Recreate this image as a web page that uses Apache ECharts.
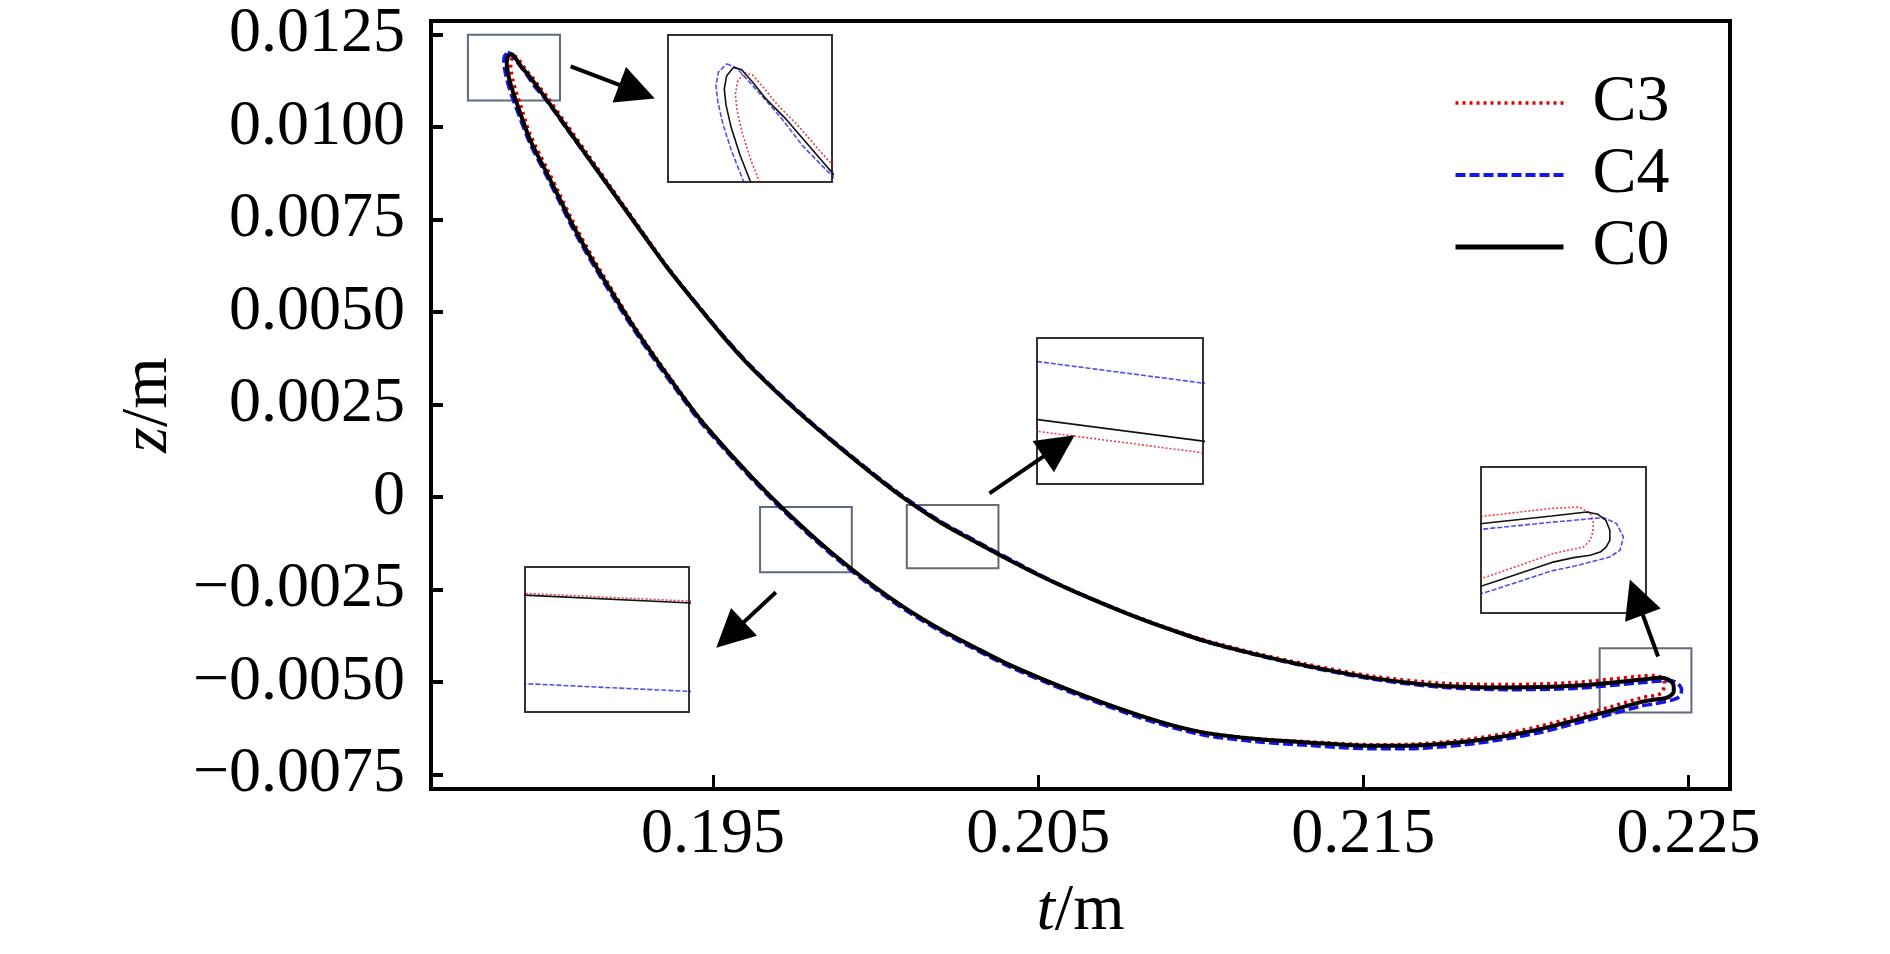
<!DOCTYPE html>
<html>
<head>
<meta charset="utf-8">
<title>C3 / C4 / C0 profile</title>
<style>
html, body { margin: 0; padding: 0; background: #fff; }
#chart { width: 1890px; height: 954px; }
</style>
</head>
<body>
<div id="chart"></div>
<script src="https://cdn.jsdelivr.net/npm/echarts@6/dist/echarts.min.js"></script>
<script>
var xTicks = [0.195, 0.205, 0.215, 0.225];
var yTicks = [-0.0075, -0.005, -0.0025, 0, 0.0025, 0.005, 0.0075, 0.01, 0.0125];

// profile loops [t, z]: leading edge -> upper side -> trailing edge -> lower side -> leading edge
var c0 = [
  [0.188754, 0.011976], [0.188845, 0.011950], [0.188971, 0.011802], [0.189116, 0.011617],
  [0.189333, 0.011395], [0.189550, 0.011136], [0.189883, 0.010743], [0.190498, 0.009986],
  [0.191114, 0.009230], [0.191729, 0.008474], [0.192345, 0.007717], [0.192960, 0.006961],
  [0.193575, 0.006218], [0.194394, 0.005313], [0.195215, 0.004435], [0.196037, 0.003625],
  [0.197062, 0.002747], [0.198086, 0.001937], [0.199114, 0.001180], [0.199932, 0.000600],
  [0.200754, 0.000046], [0.201985, -0.000683], [0.203009, -0.001183], [0.204037, -0.001669],
  [0.205062, -0.002129], [0.206086, -0.002547], [0.207114, -0.002931], [0.208138, -0.003290],
  [0.209163, -0.003614], [0.210191, -0.003911], [0.211729, -0.004263], [0.213268, -0.004565],
  [0.215317, -0.004897], [0.217369, -0.005100], [0.219421, -0.005149], [0.221471, -0.005105],
  [0.223523, -0.004943],
  [0.224140, -0.004890], [0.224340, -0.004920], [0.224480, -0.004998], [0.224550, -0.005128],
  [0.224550, -0.005258], [0.224480, -0.005350], [0.224380, -0.005411], [0.224200, -0.005454],
  [0.223910, -0.005484],
  [0.223523, -0.005546], [0.222498, -0.005802], [0.221471, -0.006045], [0.220445, -0.006275],
  [0.219421, -0.006456], [0.218394, -0.006591], [0.217369, -0.006680], [0.216345, -0.006726],
  [0.215317, -0.006726], [0.213268, -0.006634], [0.211729, -0.006545], [0.210191, -0.006383],
  [0.209163, -0.006180], [0.208138, -0.005910], [0.207114, -0.005600], [0.206086, -0.005262],
  [0.205062, -0.004897], [0.204037, -0.004506], [0.203009, -0.004046], [0.201985, -0.003574],
  [0.200960, -0.003033], [0.199932, -0.002404], [0.198702, -0.001548], [0.197677, -0.000751],
  [0.196652, 0.000119], [0.195625, 0.001072], [0.194600, 0.002099], [0.193985, 0.002820],
  [0.193268, 0.003693], [0.192548, 0.004611], [0.191932, 0.005475], [0.191317, 0.006353],
  [0.190702, 0.007320], [0.190292, 0.008042], [0.189883, 0.008763], [0.189369, 0.009662],
  [0.188960, 0.010654], [0.188825, 0.011004], [0.188731, 0.011304], [0.188675, 0.011554],
  [0.188655, 0.011734], [0.188680, 0.011880], [0.188754, 0.011976]
];

var c3 = [
  [0.188874, 0.011916], [0.188965, 0.011890], [0.189091, 0.011742], [0.189236, 0.011557],
  [0.189453, 0.011335], [0.189670, 0.011076], [0.189883, 0.010833], [0.190498, 0.010066],
  [0.191114, 0.009300], [0.191729, 0.008534], [0.192345, 0.007767], [0.192960, 0.007001],
  [0.193575, 0.006248], [0.194394, 0.005333], [0.195215, 0.004445], [0.196037, 0.003625],
  [0.197062, 0.002747], [0.198086, 0.001934], [0.199114, 0.001175], [0.199932, 0.0005936],
  [0.200754, 0.0000396], [0.201985, -0.0006894], [0.203009, -0.0011894], [0.204037, -0.001674],
  [0.205062, -0.002129], [0.206086, -0.002542], [0.207114, -0.002921], [0.208138, -0.003275],
  [0.209163, -0.003594], [0.210191, -0.003886], [0.211729, -0.004233], [0.213268, -0.004525],
  [0.215317, -0.004847], [0.217369, -0.005030], [0.219421, -0.005069], [0.221471, -0.005015],
  [0.223523, -0.004843],
  [0.224000, -0.004825], [0.224200, -0.004900], [0.224260, -0.005030], [0.224250, -0.005150],
  [0.224200, -0.005258], [0.224080, -0.005346], [0.223800, -0.005390],
  [0.223523, -0.005436], [0.222498, -0.005702], [0.221471, -0.005955], [0.220445, -0.006195],
  [0.219421, -0.006386], [0.218394, -0.006531], [0.217369, -0.006630], [0.216345, -0.006686],
  [0.215317, -0.006696], [0.213268, -0.006614], [0.211729, -0.006535], [0.210191, -0.006378],
  [0.209163, -0.006180], [0.208138, -0.005910], [0.207114, -0.005600], [0.206086, -0.005262],
  [0.205062, -0.004897], [0.204037, -0.004506], [0.203009, -0.004046], [0.201985, -0.003574],
  [0.200960, -0.003032], [0.199932, -0.002403], [0.198702, -0.001547], [0.197677, -0.000750],
  [0.196652, 0.000120], [0.195625, 0.001082], [0.194600, 0.002119], [0.193985, 0.002850],
  [0.193268, 0.003733], [0.192548, 0.004661], [0.191932, 0.005545], [0.191317, 0.006443],
  [0.190702, 0.007430], [0.190292, 0.008162], [0.189883, 0.008893], [0.189369, 0.009812],
  [0.189080, 0.010594], [0.188945, 0.010944], [0.188851, 0.011244], [0.188795, 0.011494],
  [0.188775, 0.011674], [0.188800, 0.011820], [0.188874, 0.011916]
];

var c4 = [
  [0.188680, 0.012016], [0.188791, 0.011969], [0.188971, 0.011765], [0.189260, 0.011431],
  [0.189513, 0.011098], [0.189883, 0.010713], [0.190498, 0.009956], [0.191114, 0.009210],
  [0.191729, 0.008464], [0.192345, 0.007717], [0.192960, 0.006971], [0.193575, 0.006228],
  [0.194394, 0.005333], [0.195215, 0.004465], [0.196037, 0.003655], [0.197062, 0.002777],
  [0.198086, 0.001967], [0.199114, 0.001210], [0.199932, 0.0006318], [0.200754, 0.0000778],
  [0.201985, -0.0006512], [0.203009, -0.0011512], [0.204037, -0.001639], [0.205062, -0.002109],
  [0.206086, -0.002537], [0.207114, -0.002921], [0.208138, -0.003290], [0.209163, -0.003614],
  [0.210191, -0.003921], [0.211729, -0.004273], [0.213268, -0.004585], [0.215317, -0.004927],
  [0.217369, -0.005140], [0.219421, -0.005209], [0.221471, -0.005175], [0.223523, -0.005023],
  [0.224440, -0.004963], [0.224670, -0.005041], [0.224790, -0.005215], [0.224730, -0.005388],
  [0.224550, -0.005476], [0.223910, -0.005597],
  [0.223523, -0.005656], [0.222498, -0.005902], [0.221471, -0.006135], [0.220445, -0.006365],
  [0.219421, -0.006536], [0.218394, -0.006671], [0.217369, -0.006760], [0.216345, -0.006806],
  [0.215317, -0.006806], [0.213268, -0.006714], [0.211729, -0.006615], [0.210191, -0.006453],
  [0.209163, -0.006240], [0.208138, -0.005970], [0.207114, -0.005650], [0.206086, -0.005312],
  [0.205062, -0.004947], [0.204037, -0.004556], [0.203009, -0.004096], [0.201985, -0.003624],
  [0.200960, -0.003083], [0.199932, -0.0024528], [0.198702, -0.0015968], [0.197677, -0.0007998],
  [0.196652, 0.0000702], [0.195625, 0.001022], [0.194600, 0.002039], [0.193985, 0.002760],
  [0.193268, 0.003623], [0.192548, 0.004541], [0.191932, 0.005395], [0.191317, 0.006273],
  [0.190702, 0.007230], [0.190292, 0.007952], [0.189883, 0.008673], [0.189369, 0.009562],
  [0.188870, 0.010694], [0.188735, 0.011044], [0.188641, 0.011344], [0.188585, 0.011594],
  [0.188565, 0.011774], [0.188590, 0.011920], [0.188680, 0.012016]
];

// marked regions on the main plot [t0, t1, z0, z1]
var zoomBoxes = [
  [0.187461, 0.190292, 0.010715, 0.012498],
  [0.196446, 0.199268, -0.002034, -0.000270],
  [0.200960, 0.203779, -0.001926, -0.000216],
  [0.222271, 0.225093, -0.005823, -0.004087]
];

// what each inset shows [t0, t1, z0, z1]
var insetViews = [
  [0.188043, 0.189827, 0.010702, 0.012336],
  [0.20136, 0.20138, -0.0003482, -0.0002682],
  [0.1971475, 0.1971525, -0.000366, -0.000286],
  [0.22227, 0.22519, -0.006205, -0.004304]
];

// arrows [t0, z0, t1, z1]
var arrows = [
  [0.190621, 0.011641, 0.192662, 0.010958],
  [0.203502, 0.000100, 0.205640, 0.001380],
  [0.196932, -0.002574, 0.195526, -0.003727],
  [0.224068, -0.004311, 0.223401, -0.002712]
];

var names = ['C3', 'C4', 'C0'];
var curves = [c3, c4, c0];
var colors = ['#e00000', '#1414e6', '#000000'];

var FONT = 'Liberation Serif';

var insetPos = [
  { left: 668, top: 35, width: 164, height: 147 },
  { left: 1037, top: 338, width: 166, height: 146 },
  { left: 525, top: 567, width: 164, height: 145 },
  { left: 1481, top: 467, width: 165, height: 146 }
];

var titleStyle = {
  fontSize: 66, fontFamily: FONT, color: '#000',
  rich: { i: { fontSize: 66, fontFamily: FONT, fontStyle: 'italic', color: '#000' } }
};

var grids = [{
  left: 431, top: 21, width: 1299, height: 768,
  show: true, borderColor: '#000', borderWidth: 4
}];
var xAxes = [{
  type: 'value', gridIndex: 0, min: 0.186325, max: 0.22628,
  name: '{i|t}/m', nameLocation: 'middle', nameGap: 90, nameTextStyle: titleStyle,
  axisLine: { show: true, onZero: false, lineStyle: { color: '#000', width: 4 } },
  axisTick: { show: true, inside: true, length: 14, lineStyle: { color: '#000', width: 3 }, customValues: xTicks },
  axisLabel: {
    fontSize: 64, fontFamily: FONT, color: '#000', margin: 14, customValues: xTicks,
    formatter: function (v) { return v.toFixed(3); }
  },
  splitLine: { show: false }
}];
var yAxes = [{
  type: 'value', gridIndex: 0, min: -0.007894, max: 0.012867,
  name: '{i|z}/m', nameLocation: 'middle', nameGap: 236, nameTextStyle: titleStyle,
  axisLine: { show: true, onZero: false, lineStyle: { color: '#000', width: 4 } },
  axisTick: { show: true, inside: true, length: 12, lineStyle: { color: '#000', width: 4 }, customValues: yTicks },
  axisLabel: {
    fontSize: 64, fontFamily: FONT, color: '#000', margin: 26, customValues: yTicks,
    formatter: function (v) {
      if (Math.abs(v) < 1e-9) return '0';
      return (v < 0 ? '\u2212' : '') + Math.abs(v).toFixed(4);
    }
  },
  splitLine: { show: false }
}];

var series = [];
var mainWidth = [3.5, 3.5, 4];
var mainType = [[3, 4], [10, 4], 'solid'];
for (var i = 0; i < 3; i++) {
  var s = {
    name: names[i], type: 'line', xAxisIndex: 0, yAxisIndex: 0,
    data: curves[i], symbol: 'none', showSymbol: false, silent: true, z: 2 + i,
    smooth: 0.3,
    itemStyle: { color: colors[i] },
    lineStyle: { color: colors[i], width: mainWidth[i], type: mainType[i] }
  };
  if (i === 2) {
    s.markArea = {
      silent: true,
      itemStyle: { color: 'rgba(0,0,0,0)', borderColor: '#5d6b7d', borderWidth: 2 },
      data: zoomBoxes.map(function (b) {
        return [{ coord: [b[0], b[3]] }, { coord: [b[1], b[2]] }];
      })
    };
    s.markLine = {
      silent: true,
      symbol: ['none', 'triangle'],
      symbolSize: 38,
      label: { show: false },
      lineStyle: { color: '#000', width: 4, type: 'solid' },
      data: arrows.map(function (a) {
        return [{ coord: [a[0], a[1]] }, { coord: [a[2], a[3]] }];
      })
    };
  }
  series.push(s);
}

// insets: same curves, zoomed
var insetType = [[2, 2], [5, 2], 'solid'];
var insetColor = ['rgba(224,0,0,0.75)', 'rgba(20,20,230,0.75)', '#111'];
insetViews.forEach(function (v, k) {
  var g = insetPos[k];
  grids.push({
    left: g.left, top: g.top, width: g.width, height: g.height,
    show: true, backgroundColor: '#fff', borderColor: '#333', borderWidth: 2
  });
  xAxes.push({ type: 'value', gridIndex: k + 1, min: v[0], max: v[1], show: false });
  yAxes.push({ type: 'value', gridIndex: k + 1, min: v[2], max: v[3], show: false });
  for (var i = 0; i < 3; i++) {
    series.push({
      name: names[i], type: 'line', xAxisIndex: k + 1, yAxisIndex: k + 1,
      data: curves[i], symbol: 'none', showSymbol: false, silent: true, clip: true,
      itemStyle: { color: colors[i] },
      lineStyle: { color: insetColor[i], width: 1.6, type: insetType[i] }
    });
  }
});

var legendWidth = [3.5, 4, 5];
var chart = echarts.init(document.getElementById('chart'));
chart.setOption({
  animation: false,
  backgroundColor: '#fff',
  legend: {
    data: names.map(function (n, i) {
      return { name: n, lineStyle: { width: legendWidth[i] } };
    }),
    orient: 'vertical',
    left: 1453, top: 70, padding: 0,
    itemWidth: 108, itemHeight: 14, itemGap: 6,
    selectedMode: false,
    itemStyle: { opacity: 0 },
    textStyle: { fontSize: 66, lineHeight: 66, fontFamily: FONT, color: '#000', padding: [0, 0, 0, 24] }
  },
  grid: grids,
  xAxis: xAxes,
  yAxis: yAxes,
  series: series
});
</script>
</body>
</html>
